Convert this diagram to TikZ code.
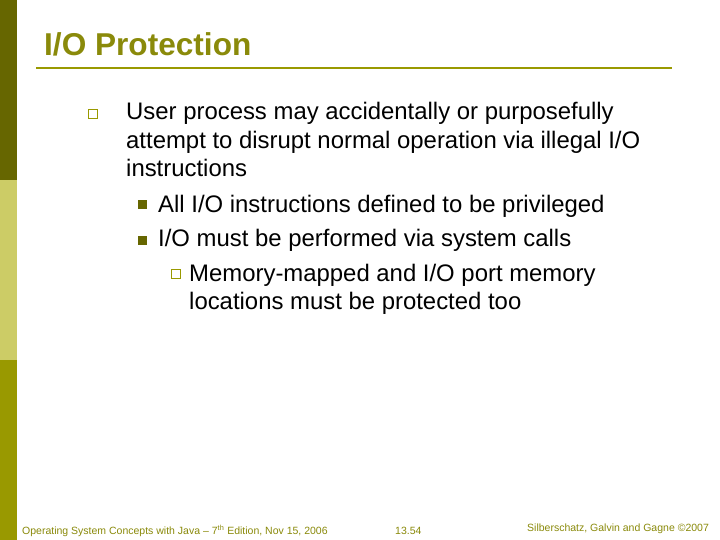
\documentclass[tikz,border=0pt]{standalone}
\usepackage{fontspec}
\setmainfont{Liberation Sans}
\definecolor{oliveA}{HTML}{666600}
\definecolor{oliveB}{HTML}{CCCC66}
\definecolor{oliveC}{HTML}{999900}
\definecolor{titlec}{HTML}{8A8A0A}
\begin{document}
\begin{tikzpicture}[x=1pt,y=-1pt,
  body/.style={anchor=base west,inner sep=0pt,font=\fontsize{23.9}{24}\selectfont},
  foot/.style={anchor=base west,inner sep=0pt,text=titlec,font=\fontsize{10.5}{11}\selectfont},
  hbox/.style={draw=oliveC,fill=white,line width=1.5pt,minimum size=9pt,inner sep=0pt},
  fbox/.style={fill=oliveA,minimum size=9pt,inner sep=0pt}]
\useasboundingbox (0,0) rectangle (720,540);
\fill[white] (0,0) rectangle (720,540);
\fill[oliveA] (0,0) rectangle (17,180);
\fill[oliveB] (0,180) rectangle (17,360);
\fill[oliveC] (0,360) rectangle (17,540);
\node[anchor=base west,inner sep=0pt,text=titlec,font=\fontsize{31.6}{32}\selectfont\bfseries] (title) at (44,56) {I/O Protection};
\draw[oliveC,line width=2.5pt] (36,68) -- (672,68);
\node[hbox] (b1) at (93,114) {};
\node[body] (t1) at (126,120) {User process may accidentally or purposefully};
\node[body] (t2) at (126,149) {attempt to disrupt normal operation via illegal I/O};
\node[body] (t3) at (126,177) {instructions};
\node[fbox] (b2) at (142,205) {};
\node[body] (t4) at (158,212) {All I/O instructions defined to be privileged};
\node[fbox] (b3) at (142,240) {};
\node[body] (t5) at (158,247) {I/O must be performed via system calls};
\node[hbox] (b4) at (176,274) {};
\node[body] (t6) at (189,281) {Memory-mapped and I/O port memory};
\node[body] (t7) at (189,309) {locations must be protected too};
\node[foot] (f1) at (22,534) {Operating System Concepts with Java -- 7\textsuperscript{th} Edition, Nov 15, 2006};
\node[foot] (f2) at (395,534) {13.54};
\node[foot] (f3) at (527,531) {Silberschatz, Galvin and Gagne \textcopyright2007};
\end{tikzpicture}
\end{document}
